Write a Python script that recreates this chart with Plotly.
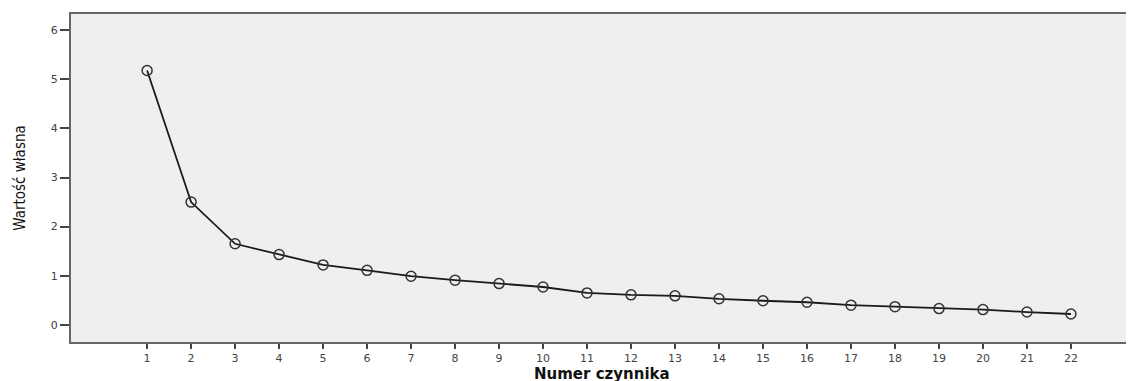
import plotly.graph_objects as go

factors = list(range(1, 23))
eigenvalues = [5.18, 2.50, 1.65, 1.43, 1.22, 1.11, 0.99, 0.91, 0.84, 0.77, 0.65,
               0.61, 0.59, 0.53, 0.49, 0.46, 0.40, 0.37, 0.33, 0.31, 0.26, 0.22]
y_ticks = [0, 1, 2, 3, 4, 5, 6]
x_title = "Numer czynnika"
y_title = "Wartość własna"

fig = go.Figure()
fig.add_trace(go.Scatter(
    x=factors, y=eigenvalues, mode="lines+markers",
    line=dict(color="#1a1a1a", width=1.8),
    marker=dict(symbol="circle-open", size=10, color="#333333", line=dict(width=1.5)),
    showlegend=False,
))

# page body has an ~8px margin, so figure is offset
fig.update_layout(
    width=1126, height=373,
    margin=dict(l=63, r=1, t=6, b=39),
    paper_bgcolor="white", plot_bgcolor="#efefef",
    font=dict(family="DejaVu Sans", size=11, color="#444444"),
    xaxis=dict(
        range=[-0.73, 23.41], tickvals=factors, ticktext=[str(f) for f in factors],
        ticks="outside", ticklen=5, tickwidth=2, tickcolor="#444444",
        showgrid=False, zeroline=False, automargin=False,
        showline=True, linecolor="#666666", linewidth=2, mirror=True,
        tickfont=dict(size=11, color="#444444"),
    ),
    yaxis=dict(
        range=[-0.35, 6.33], tickvals=y_ticks,
        ticks="outside", ticklen=9, tickwidth=1.5, tickcolor="#444444",
        showgrid=False, zeroline=False, automargin=False,
        showline=True, linecolor="#666666", linewidth=2, mirror=True,
        title=dict(text=y_title, font=dict(family="DejaVu Sans Condensed", size=15, color="#111111"), standoff=22),
        tickfont=dict(size=11, color="#444444"),
    ),
    annotations=[dict(
        text="<b>" + x_title + "</b>", xref="paper", yref="paper", x=0.5, y=0,
        xanchor="center", yanchor="top", yshift=-21, showarrow=False,
        font=dict(family="DejaVu Sans", size=15, color="#111111"),
    )],
)

fig.write_html("out.html")
